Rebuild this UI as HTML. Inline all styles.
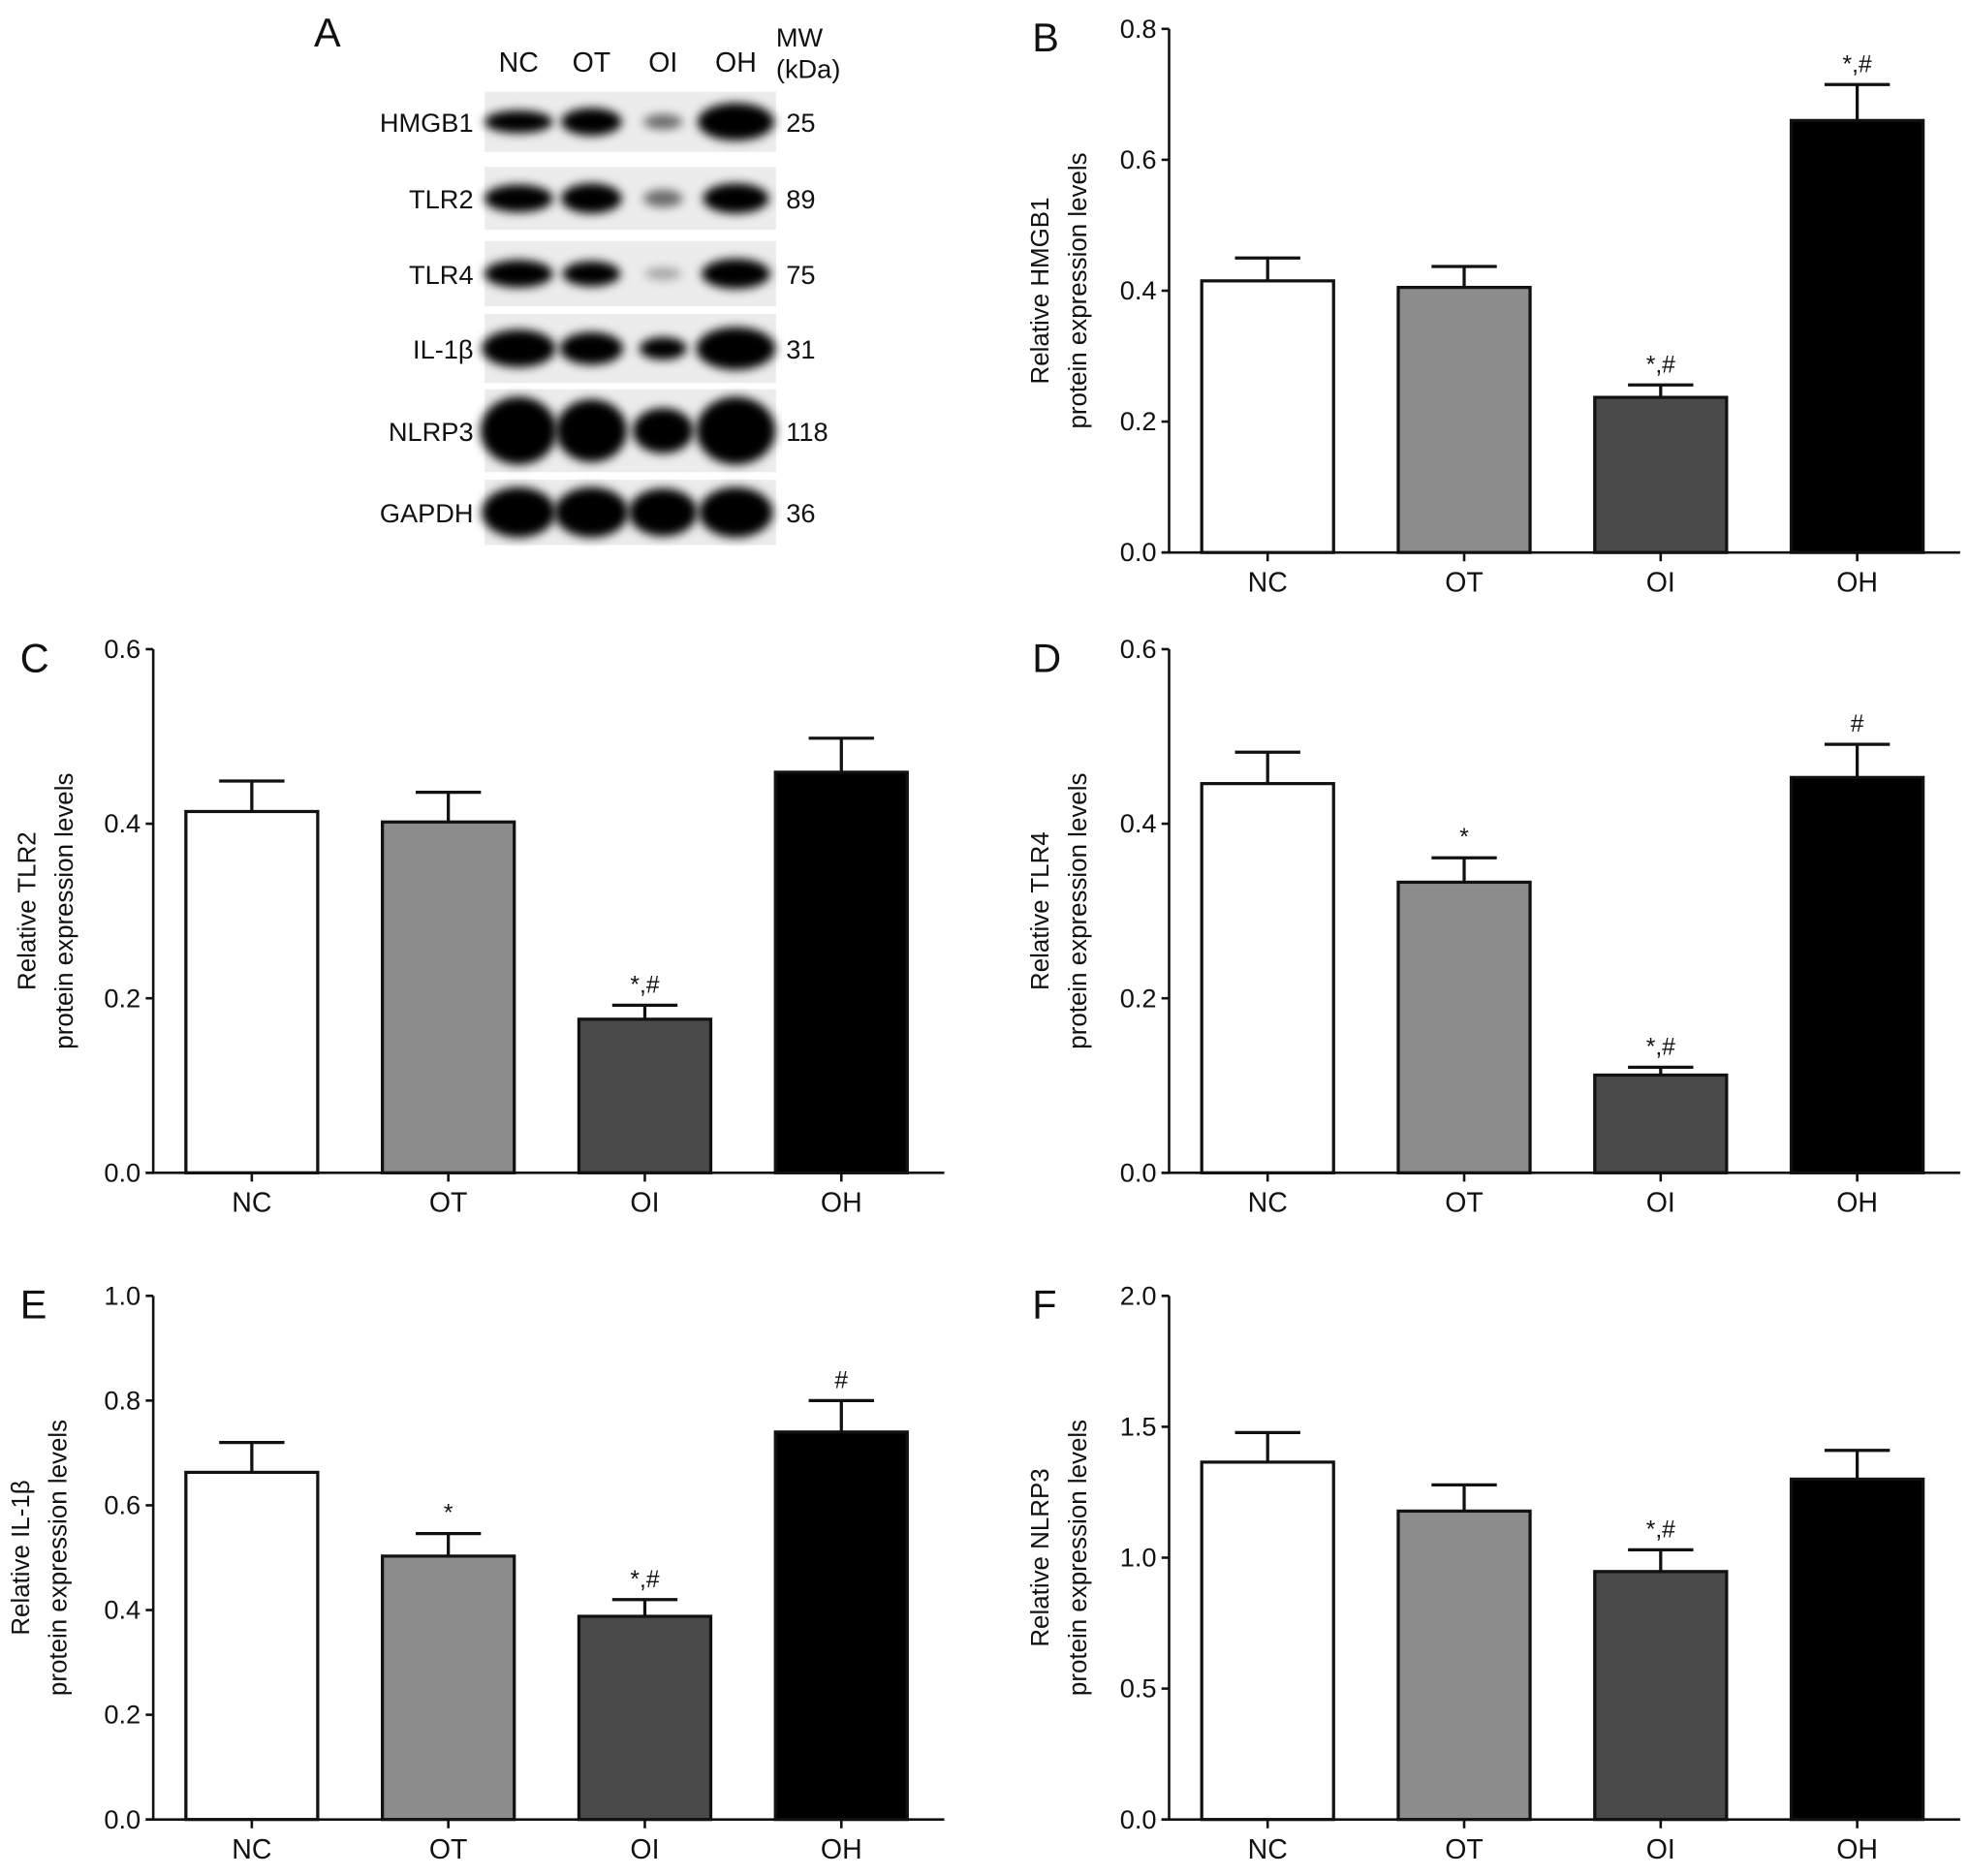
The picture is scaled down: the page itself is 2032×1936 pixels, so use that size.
<!DOCTYPE html>
<html><head><meta charset="utf-8"><style>
html,body{margin:0;padding:0;background:#fff}
svg{display:block}
text{font-family:"Liberation Sans Narrow","Liberation Sans",sans-serif;fill:#111}
.ttl{font-family:"Liberation Sans",sans-serif}
</style></head><body>
<svg id="fig" width="2032" height="1936" viewBox="0 0 1568 1494" xmlns="http://www.w3.org/2000/svg">
<defs>
<filter id="blur" x="-30%" y="-60%" width="160%" height="220%"><feGaussianBlur stdDeviation="4"/></filter>
</defs>
<g id="blot"></g>
<g id="charts"></g>
</svg>
<script>
const categories = ["NC","OT","OI","OH"];
const fills = ["#ffffff","#8c8c8c","#4a4a4a","#000000"];
const hmgb1Values = [0.415,0.405,0.237,0.660];
const hmgb1Errors = [0.035,0.032,0.019,0.055];
const hmgb1Marks = ["","","*,#","*,#"];
const hmgb1Ticks = [0.0,0.2,0.4,0.6,0.8];
const tlr2Values = [0.414,0.402,0.176,0.459];
const tlr2Errors = [0.035,0.034,0.016,0.039];
const tlr2Marks = ["","","*,#",""];
const tlr2Ticks = [0.0,0.2,0.4,0.6];
const tlr4Values = [0.446,0.333,0.112,0.453];
const tlr4Errors = [0.036,0.028,0.009,0.038];
const tlr4Marks = ["","*","*,#","#"];
const tlr4Ticks = [0.0,0.2,0.4,0.6];
const il1bValues = [0.663,0.503,0.388,0.740];
const il1bErrors = [0.057,0.043,0.032,0.060];
const il1bMarks = ["","*","*,#","#"];
const il1bTicks = [0.0,0.2,0.4,0.6,0.8,1.0];
const nlrp3Values = [1.365,1.178,0.947,1.300];
const nlrp3Errors = [0.113,0.100,0.083,0.110];
const nlrp3Marks = ["","","*,#",""];
const nlrp3Ticks = [0.0,0.5,1.0,1.5,2.0];

const NS="http://www.w3.org/2000/svg";
function mk(tag,attrs,parent){const e=document.createElementNS(NS,tag);for(const k in attrs)e.setAttribute(k,attrs[k]);parent.appendChild(e);return e;}

function chart(cfg){
  const g=mk("g",{},document.getElementById("charts"));
  
  
  const ax=cfg.ax, top=cfg.top, bot=cfg.bot, ymax=cfg.ticks[cfg.ticks.length-1];
  const y=v=>bot-(v/ymax)*(bot-top);
  const x0=ax+26, step=156.5, bw=105;
  const letter=mk("text",{x:cfg.lx,y:top+18,"font-size":32,class:"ttl"},g);
  letter.textContent=cfg.letter;
  
  
  const yl=mk("line",{x1:ax,y1:top,x2:ax,y2:bot,stroke:"#111","stroke-width":2},g);
  
  
  const xl=mk("line",{x1:ax-6,y1:bot,x2:ax+630,y2:bot,stroke:"#111","stroke-width":2},g);
  
  
  cfg.ticks.forEach(t=>{
    mk("line",{x1:ax-6,y1:y(t),x2:ax,y2:y(t),stroke:"#111","stroke-width":2},g);
    const tx=mk("text",{x:ax-10,y:y(t)+7,"font-size":21,"text-anchor":"end"},g);
    tx.textContent=t.toFixed(1);
    
    
  });
  const cy=(top+bot)/2;
  const t1=mk("text",{x:0,y:0,"font-size":20,"text-anchor":"middle",class:"ttl",transform:`translate(${cfg.tx},${cy}) rotate(-90)`},g);
  t1.textContent=cfg.title;
  
  
  const t2=mk("text",{x:0,y:0,"font-size":20,"text-anchor":"middle",class:"ttl",transform:`translate(${cfg.tx+30},${cy}) rotate(-90)`},g);
  t2.textContent="protein expression levels";
  
  
  categories.forEach((c,i)=>{
    const bx=x0+i*step, cx=bx+bw/2, v=cfg.values[i], e=cfg.errors[i];
    const r=mk("rect",{x:bx,y:y(v),width:bw,height:bot-y(v),fill:fills[i],stroke:"#111","stroke-width":2.5},g);
    
    
    const eb=mk("path",{d:`M${cx},${y(v)}V${y(v+e)}M${cx-26},${y(v+e)}H${cx+26}`,stroke:"#111","stroke-width":2.5,fill:"none"},g);
    
    
    mk("line",{x1:cx,y1:bot,x2:cx,y2:bot+7,stroke:"#111","stroke-width":2},g);
    const lb=mk("text",{x:cx,y:bot+31,"font-size":22,"text-anchor":"middle"},g);
    lb.textContent=c;
    
    
    if(cfg.marks[i]){
      const m=mk("text",{x:cx,y:y(v+e)-10,"font-size":19,"text-anchor":"middle"},g);
      m.textContent=cfg.marks[i];
      
      
    }
  });
}
chart({name:"hmgb1-chart",letter:"B",lx:822,ax:931,top:23,bot:440,tx:835,ticks:hmgb1Ticks,values:hmgb1Values,errors:hmgb1Errors,marks:hmgb1Marks,title:"Relative HMGB1"});
chart({name:"tlr2-chart",letter:"C",lx:16,ax:122,top:517,bot:934,tx:28,ticks:tlr2Ticks,values:tlr2Values,errors:tlr2Errors,marks:tlr2Marks,title:"Relative TLR2"});
chart({name:"tlr4-chart",letter:"D",lx:822,ax:931,top:517,bot:934,tx:835,ticks:tlr4Ticks,values:tlr4Values,errors:tlr4Errors,marks:tlr4Marks,title:"Relative TLR4"});
chart({name:"il1b-chart",letter:"E",lx:16,ax:122,top:1032,bot:1449,tx:23,ticks:il1bTicks,values:il1bValues,errors:il1bErrors,marks:il1bMarks,title:"Relative IL-1β"});
chart({name:"nlrp3-chart",letter:"F",lx:822,ax:931,top:1032,bot:1449,tx:835,ticks:nlrp3Ticks,values:nlrp3Values,errors:nlrp3Errors,marks:nlrp3Marks,title:"Relative NLRP3"});

// Western blot
const blotRows=["HMGB1","TLR2","TLR4","IL-1β","NLRP3","GAPDH"];
const blotMW=["25","89","75","31","118","36"];
const blotTop=[73,133,192,250,310,382];
const blotH=[48,50,52,55,66,52];
const bandW=[[52,46,30,58],[52,46,30,50],[52,44,28,52],[56,48,36,60],[58,54,46,60],[56,56,52,56]];
const bandHt=[[18,22,12,30],[22,24,14,24],[22,20,10,24],[30,26,18,34],[54,50,36,54],[40,40,38,40]];
const bandOp=[[1,1,0.55,1],[1,1,0.55,1],[1,1,0.3,1],[1,1,1,1],[1,1,1,1],[1,1,1,1]];
const lanes=[413,471,528,586];
const B=document.getElementById("blot");
const A=mk("text",{x:250,y:37,"font-size":32,class:"ttl"},B);A.textContent="A";


categories.forEach((c,i)=>{const t=mk("text",{x:lanes[i],y:57,"font-size":22,"text-anchor":"middle",class:"ttl"},B);t.textContent=c;

});
const mw1=mk("text",{x:618,y:37,"font-size":21,class:"ttl"},B);mw1.textContent="MW";


const mw2=mk("text",{x:618,y:62,"font-size":21,class:"ttl"},B);mw2.textContent="(kDa)";


blotRows.forEach((r,k)=>{
  const t0=blotTop[k],h=blotH[k],cy=t0+h/2;
  const bg=mk("rect",{x:386,y:t0,width:232,height:h,fill:"#ececec"},B);
  
  
  lanes.forEach((lx,i)=>{
    const e=mk("ellipse",{cx:lx,cy:cy,rx:bandW[k][i]/2*1.05,ry:bandHt[k][i]/2,fill:"#000","fill-opacity":bandOp[k][i],filter:"url(#blur)"},B);
    
    
  });
  const l=mk("text",{x:377,y:cy+8,"font-size":21,"text-anchor":"end",class:"ttl"},B);l.textContent=r;
  
  
  const m=mk("text",{x:626,y:cy+8,"font-size":21,class:"ttl"},B);m.textContent=blotMW[k];
  
  
});
</script>
</body></html>
